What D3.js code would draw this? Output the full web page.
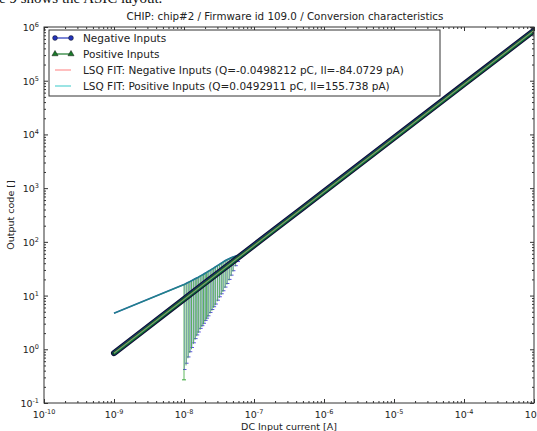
<!DOCTYPE html>
<html>
<head>
<meta charset="utf-8">
<script src="https://cdn.jsdelivr.net/npm/d3@7"></script>
<style>
  body { margin: 0; background: #fff; }
  svg { display: block; font-family: "DejaVu Sans", sans-serif; }
</style>
</head>
<body>
<div id="chart"></div>
<script>
// main sweep (log-log straight line)
var sweepCurrent = [1e-9, 2e-9, 5e-9, 1e-8, 2e-8, 5e-8, 1e-7, 2e-7, 5e-7, 1e-6, 1e-5, 1e-4, 1e-3];
var negCode = [0.85, 1.7, 4.3, 8.6, 17.2, 43, 86, 172, 430, 860, 8600, 86000, 860000];
var posCode = [0.84, 1.68, 4.25, 8.5, 17, 42.5, 85, 170, 425, 850, 8500, 85000, 850000];

// low current region: offset branch + error bars
var lowCurrent = [1e-9, 1.0e-8, 1.07e-8, 1.14e-8, 1.21e-8, 1.28e-8, 1.36e-8, 1.44e-8, 1.52e-8, 1.6e-8, 1.7e-8,
                  1.8e-8, 1.9e-8, 2.0e-8, 2.1e-8, 2.2e-8, 2.35e-8, 2.5e-8, 2.65e-8, 2.8e-8, 3.0e-8,
                  3.2e-8, 3.4e-8, 3.6e-8, 3.85e-8, 4.1e-8, 4.4e-8, 4.7e-8, 5.0e-8, 5.4e-8, 5.8e-8];
var lowTop = [4.7, 16, 16.8, 17.5, 18.2, 18.9, 19.7, 20.5, 21.3, 22, 23,
              24, 25, 26, 27, 28, 29.5, 31, 32.5, 34, 36,
              38, 40, 42, 44.5, 46.5, 48.5, 50.5, 52, 54, 56];
var posLow = [null, 0.27, 0.5, 0.68, 0.85, 1.0, 1.25, 1.5, 1.75, 2.0, 2.3,
              2.6, 2.9, 3.3, 3.6, 4.0, 4.6, 5.2, 5.9, 6.6, 7.8,
              9, 10.3, 11.7, 13.8, 16, 19, 23, 28, 35, 42];
var negLow = [null, 0.42, 0.55, 0.72, 0.9, 1.08, 1.32, 1.58, 1.85, 2.1, 2.45,
              2.75, 3.05, 3.45, 3.8, 4.2, 4.85, 5.5, 6.2, 6.95, 8.2,
              9.5, 10.8, 12.3, 14.4, 16.8, 20, 24, 29, 36, 43];

// fits
var fitCurrent = [1e-9, 1e-3];
var fitNeg = [0.85, 860000];
var fitPos = [0.84, 850000];

var xTicks = [1e-10, 1e-9, 1e-8, 1e-7, 1e-6, 1e-5, 1e-4, 1e-3];
var yTicks = [1e-1, 1e0, 1e1, 1e2, 1e3, 1e4, 1e5, 1e6];

var legendLabels = [
  "Negative Inputs",
  "Positive Inputs",
  "LSQ FIT: Negative Inputs (Q=-0.0498212 pC, Il=-84.0729 pA)",
  "LSQ FIT: Positive Inputs (Q=0.0492911 pC, Il=155.738 pA)"
];

var W = 537, H = 431;
var pL = 44, pR = 534, pT = 27, pB = 403;

var svg = d3.select("#chart").append("svg")
  .attr("width", W)
  .attr("height", H);

// cut off page text above the figure
svg.append("text")
  .attr("x", -1).attr("y", 3)
  .style("font-family", "'Liberation Serif', serif")
  .style("font-size", "15px")
  .attr("fill", "#111")
  .text("e 9 shows the ASIC layout.");

var x = d3.scaleLog().domain([1e-10, 1e-3]).range([pL, pR]);
var y = d3.scaleLog().domain([0.1, 1e6]).range([pB, pT]);

var minorX = [], minorY = [];
for (var e = -10; e < -3; e++) for (var m = 2; m < 10; m++) minorX.push(m * Math.pow(10, e));
for (var e = -1; e < 6; e++) for (var m = 2; m < 10; m++) minorY.push(m * Math.pow(10, e));

var plot = svg.append("g");
plot.append("clipPath").attr("id", "clip")
  .append("rect").attr("x", pL).attr("y", pT).attr("width", pR - pL).attr("height", pB - pT);
var g = plot.append("g").attr("clip-path", "url(#clip)");

// error bars: blue (negative) under green (positive)
lowCurrent.forEach(function(c, i) {
  if (negLow[i] == null) return;
  var px = x(c);
  g.append("line").attr("x1", px + 0.5).attr("x2", px + 0.5)
    .attr("y1", y(lowTop[i])).attr("y2", y(negLow[i]))
    .attr("stroke", "#4a4ae0").attr("stroke-width", 0.8).attr("opacity", 0.6);
  g.append("line").attr("x1", px - 1).attr("x2", px + 2.5)
    .attr("y1", y(negLow[i])).attr("y2", y(negLow[i]))
    .attr("stroke", "#5a50e0").attr("stroke-width", 1);
});
lowCurrent.forEach(function(c, i) {
  if (posLow[i] == null) return;
  var px = x(c);
  g.append("line").attr("x1", px).attr("x2", px)
    .attr("y1", y(lowTop[i])).attr("y2", y(posLow[i]))
    .attr("stroke", "#3aa83a").attr("stroke-width", 1).attr("opacity", 0.8);
});
g.append("line").attr("x1", x(lowCurrent[1]) - 2).attr("x2", x(lowCurrent[1]) + 2)
  .attr("y1", y(posLow[1])).attr("y2", y(posLow[1]))
  .attr("stroke", "#3aa83a");

var line = d3.line().x(function(d) { return x(d[0]); }).y(function(d) { return y(d[1]); });

// offset branch (blue + green on top of each other)
var lowPts = lowCurrent.map(function(c, i) { return [c, lowTop[i]]; });
g.append("path").attr("d", line(lowPts)).attr("fill", "none")
  .attr("stroke", "#2050b0").attr("stroke-width", 1.6);
g.append("path").attr("d", line(lowPts)).attr("fill", "none")
  .attr("stroke", "#20a070").attr("stroke-width", 1.2).attr("opacity", 0.7);

// main sweep, dense markers look like a thick band
var negPts = sweepCurrent.map(function(c, i) { return [c, negCode[i]]; });
var posPts = sweepCurrent.map(function(c, i) { return [c, posCode[i]]; });
g.append("path").attr("d", line(negPts)).attr("fill", "none")
  .attr("stroke", "#0c1030").attr("stroke-width", 6).attr("stroke-linecap", "round");
g.append("path").attr("d", line(negPts)).attr("fill", "none")
  .attr("stroke", "#1a2a80").attr("stroke-width", 4).attr("stroke-linecap", "round");
g.append("path").attr("d", line(posPts)).attr("fill", "none")
  .attr("stroke", "#0e4a1a").attr("stroke-width", 3.2).attr("stroke-linecap", "round");
g.append("path").attr("d", line(posPts)).attr("fill", "none")
  .attr("stroke", "#1e8a2e").attr("stroke-width", 2.4);

// fits
g.append("path").attr("d", line(fitCurrent.map(function(c, i) { return [c, fitNeg[i]]; })))
  .attr("fill", "none").attr("stroke", "#ff5050").attr("stroke-width", 1).attr("opacity", 0.8);
g.append("path").attr("d", line(fitCurrent.map(function(c, i) { return [c, fitPos[i]]; })))
  .attr("fill", "none").attr("stroke", "#30d0d0").attr("stroke-width", 1).attr("opacity", 0.5);

// frame
plot.append("rect").attr("x", pL).attr("y", pT).attr("width", pR - pL).attr("height", pB - pT)
  .attr("fill", "none").attr("stroke", "#333").attr("stroke-width", 1);

// ticks, inward on all four sides
function ticks(axis, vals, size, tr) {
  svg.append("g").attr("transform", tr)
    .call(axis.tickValues(vals).tickSize(-size).tickFormat(""))
    .call(function(s) { s.select(".domain").remove(); s.selectAll("line").attr("stroke", "#333"); });
}
ticks(d3.axisBottom(x), xTicks, 4, "translate(0," + pB + ")");
ticks(d3.axisBottom(x), minorX, 2, "translate(0," + pB + ")");
ticks(d3.axisTop(x), xTicks, 4, "translate(0," + pT + ")");
ticks(d3.axisTop(x), minorX, 2, "translate(0," + pT + ")");
ticks(d3.axisLeft(y), yTicks, 4, "translate(" + pL + ",0)");
ticks(d3.axisLeft(y), minorY, 2, "translate(" + pL + ",0)");
ticks(d3.axisRight(y), yTicks, 4, "translate(" + pR + ",0)");
ticks(d3.axisRight(y), minorY, 2, "translate(" + pR + ",0)");

// tick labels with superscripts
xTicks.forEach(function(v) {
  var t = svg.append("text").attr("x", x(v)).attr("y", pB + 15)
    .attr("text-anchor", "middle").style("font-size", "9.5px").attr("fill", "#222");
  t.append("tspan").text("10");
  t.append("tspan").attr("dy", -4).style("font-size", "6.5px").text(Math.round(Math.log10(v)));
});
yTicks.forEach(function(v) {
  var t = svg.append("text").attr("x", pL - 5).attr("y", y(v) + 4)
    .attr("text-anchor", "end").style("font-size", "9.5px").attr("fill", "#222");
  t.append("tspan").text("10");
  t.append("tspan").attr("dy", -4).style("font-size", "6.5px").text(Math.round(Math.log10(v)));
});

svg.append("text").attr("x", (pL + pR) / 2).attr("y", 429.5)
  .attr("text-anchor", "middle").style("font-size", "9.5px").attr("fill", "#222")
  .text("DC Input current [A]");
svg.append("text").attr("transform", "translate(14," + (pT + pB) / 2 + ") rotate(-90)")
  .attr("text-anchor", "middle").style("font-size", "9.5px").attr("fill", "#222")
  .text("Output code []");
svg.append("text").attr("x", 285).attr("y", 20)
  .attr("text-anchor", "middle").style("font-size", "10.3px").attr("fill", "#222")
  .text("CHIP: chip#2 / Firmware id 109.0 / Conversion characteristics");

// legend
var lg = svg.append("g");
lg.append("rect").attr("x", 49).attr("y", 30).attr("width", 391).attr("height", 66)
  .attr("fill", "#fff").attr("stroke", "#333").attr("stroke-width", 1);
var legendStyle = [
  { color: "#2233bb", marker: "circle", opacity: 1 },
  { color: "#1a7a2a", marker: "triangle", opacity: 1 },
  { color: "#ff5050", marker: null, opacity: 0.6 },
  { color: "#30c8c8", marker: null, opacity: 0.8 }
];
legendLabels.forEach(function(label, i) {
  var ly = 38 + i * 16, st = legendStyle[i];
  lg.append("line").attr("x1", 55).attr("x2", 71).attr("y1", ly).attr("y2", ly)
    .attr("stroke", st.color).attr("stroke-width", 1.2).attr("opacity", st.opacity);
  [55, 71].forEach(function(mx) {
    if (st.marker === "circle") {
      lg.append("circle").attr("cx", mx).attr("cy", ly).attr("r", 2.4)
        .attr("fill", "#2233bb").attr("stroke", "#111").attr("stroke-width", 0.5);
    } else if (st.marker === "triangle") {
      lg.append("path").attr("d", d3.symbol(d3.symbolTriangle, 16)())
        .attr("transform", "translate(" + mx + "," + ly + ")")
        .attr("fill", "#1a7a2a").attr("stroke", "#111").attr("stroke-width", 0.5);
    }
  });
  lg.append("text").attr("x", 83).attr("y", ly + 4)
    .style("font-size", "10.5px").attr("fill", "#222").text(label);
});
</script>
</body>
</html>
